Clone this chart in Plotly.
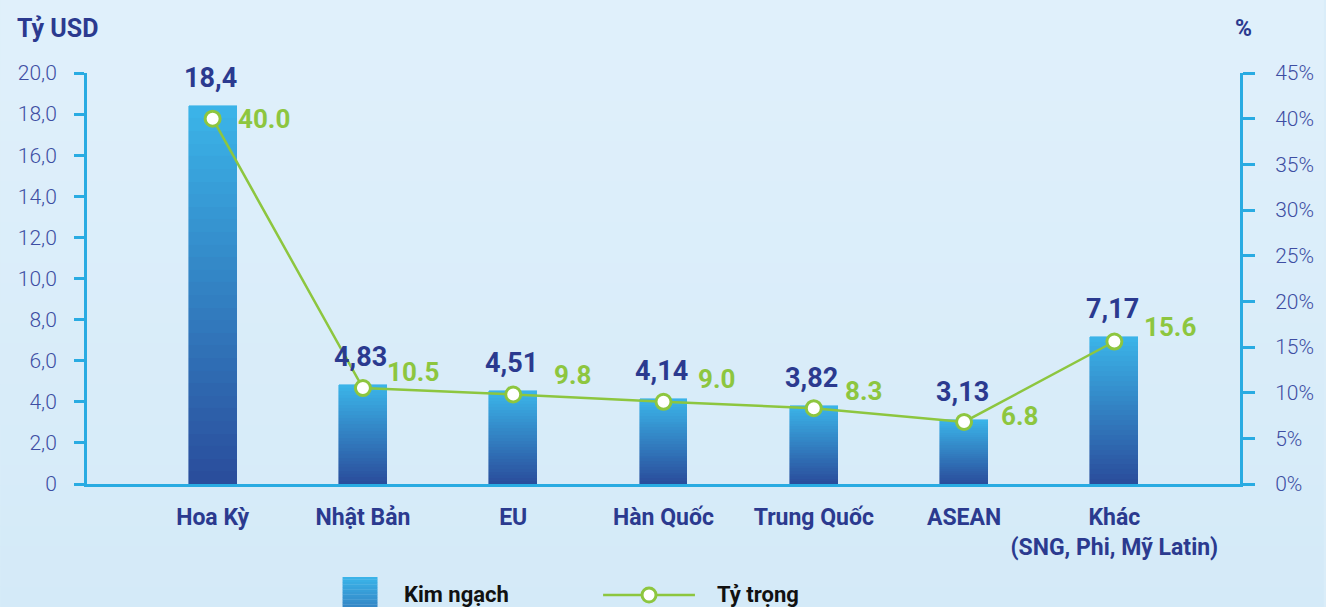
import plotly.graph_objects as go

# ---------------- data ----------------
categories = ["Hoa Kỳ", "Nhật Bản", "EU", "Hàn Quốc", "Trung Quốc", "ASEAN",
              "Khác<br>(SNG, Phi, Mỹ Latin)"]
kim_ngach = [18.4, 4.83, 4.51, 4.14, 3.82, 3.13, 7.17]
kim_ngach_labels = ["18,4", "4,83", "4,51", "4,14", "3,82", "3,13", "7,17"]
ty_trong = [40.0, 10.5, 9.8, 9.0, 8.3, 6.8, 15.6]
ty_trong_labels = ["40.0", "10.5", "9.8", "9.0", "8.3", "6.8", "15.6"]
left_tickvals = [0, 2, 4, 6, 8, 10, 12, 14, 16, 18, 20]
left_ticktext = ["0", "2,0", "4,0", "6,0", "8,0", "10,0", "12,0", "14,0", "16,0", "18,0", "20,0"]
right_tickvals = [0, 5, 10, 15, 20, 25, 30, 35, 40, 45]
right_ticktext = ["0%", "5%", "10%", "15%", "20%", "25%", "30%", "35%", "40%", "45%"]

# ---------------- styling ----------------
W, H = 1326, 607
ML, MR, MT, MB = 87, 84, 73, 123
PW, PH = W - ML - MR, H - MT - MB
NAVY = "#2B3A8F"
TICKC = "#3E4EA3"
AXC = "#29ABE2"
GREEN = "#8DC63F"
TOP_C = (0x3B, 0xB5, 0xE9)
BOT_C = (0x2A, 0x4C, 0x9B)


def mix(t):
    # t=0 bottom, t=1 top
    return "rgb(%d,%d,%d)" % tuple(round(BOT_C[i] + (TOP_C[i] - BOT_C[i]) * t) for i in range(3))


def px(xp):
    return (xp - ML) / PW


def py(yp):
    return (H - MB - yp) / PH


fig = go.Figure()

# gradient bars via stacked segments
N = 30
for k in range(N):
    fig.add_trace(go.Bar(
        x=categories, y=[v / N for v in kim_ngach],
        marker=dict(color=mix((k + 0.5) / N), line=dict(width=0.6, color=mix((k + 0.5) / N))),
        width=0.318, showlegend=False, hoverinfo="skip",
    ))

fig.add_trace(go.Scatter(
    x=categories, y=ty_trong, yaxis="y2", mode="lines+markers",
    line=dict(color=GREEN, width=2.5),
    marker=dict(size=15, color="white", line=dict(color=GREEN, width=3)),
    showlegend=False, hoverinfo="skip",
))

annotations = []
for c, v, t in zip(categories, kim_ngach, kim_ngach_labels):
    annotations.append(dict(x=c, y=v, xref="x", yref="y", text=t, showarrow=False,
                            yshift=28, xshift=-2,
                            font=dict(family="Roboto", size=27, color=NAVY, weight="bold")))

shifts = [(51, 0), (50, 16), (59, 19), (53, 23), (50, 17), (55, 6), (56, 15)]
for (c, v, t), (dx, dy) in zip(zip(categories, ty_trong, ty_trong_labels), shifts):
    annotations.append(dict(x=c, y=v, xref="x", yref="y2", text=t, showarrow=False,
                            xshift=dx, yshift=dy,
                            font=dict(family="Roboto", size=26, color=GREEN, weight="bold")))

annotations += [
    dict(x=px(15), y=py(29), xref="paper", yref="paper", text="Tỷ USD", showarrow=False,
         xanchor="left", yanchor="middle",
         font=dict(family="Roboto", size=25, color=NAVY, weight="bold")),
    dict(x=px(1246), y=py(29), xref="paper", yref="paper", text="%", showarrow=False,
         xanchor="center", yanchor="middle",
         font=dict(family="Roboto", size=23, color=NAVY, weight="bold")),
    dict(x=px(403), y=py(594), xref="paper", yref="paper", text="Kim ngạch", showarrow=False,
         xanchor="left", yanchor="middle",
         font=dict(family="Roboto", size=22, color="#111111", weight="bold")),
    dict(x=px(716), y=py(594), xref="paper", yref="paper", text="Tỷ trọng", showarrow=False,
         xanchor="left", yanchor="middle",
         font=dict(family="Roboto", size=22, color="#111111", weight="bold")),
]

shapes = []
# background gradient
NB = 30
for k in range(NB):
    y0p = H * k / NB
    y1p = H * (k + 1) / NB
    t = (k + 0.5) / NB
    c = (round(0xE0 + (0xD4 - 0xE0) * t), round(0xF0 + (0xEA - 0xF0) * t), round(0xFB + (0xF8 - 0xFB) * t))
    shapes.append(dict(type="rect", xref="paper", yref="paper", x0=px(0), x1=px(W),
                       y0=py(y1p + 0.5), y1=py(y0p - 0.5), line=dict(width=0),
                       fillcolor="rgb(%d,%d,%d)" % c, layer="below"))
# legend square (gradient)
NL = 12
for k in range(NL):
    top = 577 + (607 - 577) * k / NL
    bot = 577 + (607 - 577) * (k + 1) / NL
    shapes.append(dict(type="rect", xref="paper", yref="paper", x0=px(343), x1=px(378),
                       y0=py(bot + 0.3), y1=py(top), line=dict(width=0),
                       fillcolor=mix(1 - (k + 0.5) / NL * 0.45)))
# legend line + circle
shapes.append(dict(type="line", xref="paper", yref="paper", x0=px(604), x1=px(696),
                   y0=py(595), y1=py(595), line=dict(color=GREEN, width=2.5)))
shapes.append(dict(type="circle", xref="paper", yref="paper", x0=px(643), x1=px(657),
                   y0=py(602), y1=py(588), fillcolor="white", line=dict(color=GREEN, width=3)))

fig.update_layout(
    width=W, height=H,
    margin=dict(l=ML, r=MR, t=MT, b=MB),
    barmode="stack", bargap=0,
    paper_bgcolor="#DAEDF9", plot_bgcolor="rgba(0,0,0,0)",
    showlegend=False,
    xaxis=dict(
        type="category", range=[-0.836, 6.836], showgrid=False, zeroline=False,
        showline=True, linecolor=AXC, linewidth=3, ticks="",
        ticklabelstandoff=10,
        tickfont=dict(family="Roboto", size=23, color=NAVY, weight="bold"),
        fixedrange=True,
    ),
    yaxis=dict(
        range=[0, 20], tickvals=left_tickvals, ticktext=left_ticktext,
        showgrid=False, zeroline=False, showline=True, linecolor=AXC, linewidth=3,
        ticks="outside", ticklen=10, tickwidth=3, tickcolor=AXC,
        ticklabelstandoff=13,
        tickfont=dict(family="Roboto", size=21, color=TICKC, weight=300),
    ),
    yaxis2=dict(
        range=[0, 45], tickvals=right_tickvals, ticktext=right_ticktext,
        overlaying="y", side="right",
        showgrid=False, zeroline=False, showline=True, linecolor=AXC, linewidth=3,
        ticks="outside", ticklen=12, tickwidth=3, tickcolor=AXC,
        ticklabelstandoff=16,
        tickfont=dict(family="Roboto", size=21, color=TICKC, weight=300),
    ),
    annotations=annotations,
    shapes=shapes,
)

fig.write_html("out.html", config={"displayModeBar": False},
               post_script="document.body.style.margin='0';document.body.style.overflow='hidden';")
